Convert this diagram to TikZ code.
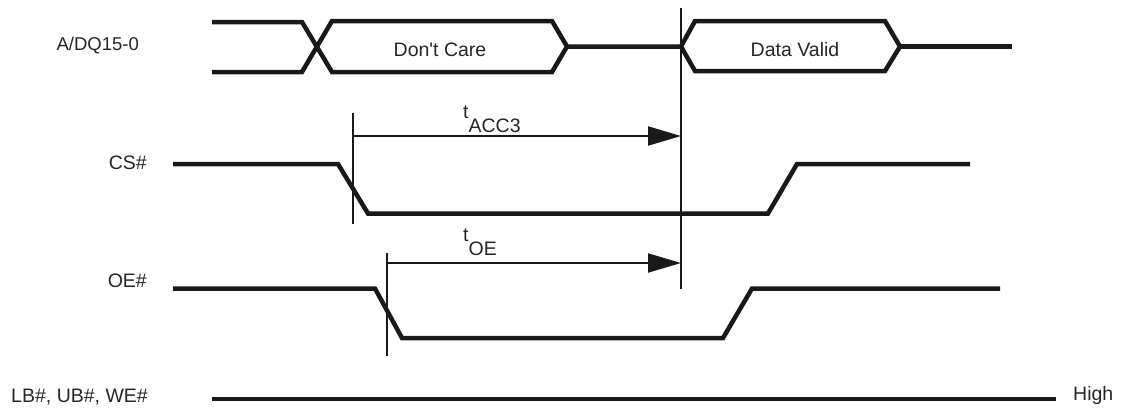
\documentclass[tikz,border=0pt]{standalone}
\usepackage{fontspec}
\setmainfont{Liberation Sans}
\usetikzlibrary{arrows.meta}
\newcommand\straightquote{\XeTeXglyph\XeTeXcharglyph"27\relax}
\begin{document}
\begin{tikzpicture}[x=1pt,y=-1pt,
  sig/.style={line width=4.5pt,line join=miter,black!90},
  thin/.style={line width=1.4pt,black!90},
  dim/.style={line width=2pt,black!90,-{Triangle[length=33pt,width=19pt]}},
  lbl/.style={inner sep=0pt,font=\fontsize{19.5}{22}\selectfont,text=black!85},
]
\useasboundingbox (0,0) rectangle (1122,408);
% labels
\node[lbl,anchor=base east,font=\fontsize{18.5}{21}\selectfont] (ldq) at (139,50) {A/DQ15-0};
\node[lbl,anchor=base east] (lcs) at (147,169) {CS\#};
\node[lbl,anchor=base east] (loe) at (147,287) {OE\#};
\node[lbl,anchor=base east] (llb) at (148,402) {LB\#, UB\#, WE\#};
\node[lbl,anchor=base west] (lhigh) at (1073,400) {High};
\node[lbl,anchor=base] (dc) at (440,56) {Don\straightquote t Care};
\node[lbl,anchor=base] (dv) at (795,56) {Data Valid};
\node[lbl,anchor=base west] (tacc) at (463,118) {t\raisebox{-14.5pt}{ACC3}};
\node[lbl,anchor=base west] (toe) at (463,241) {t\raisebox{-14.5pt}{OE}};
% A/DQ bus
\draw[sig] (212,22) -- (302,22) -- (332,72) -- (552,72) -- (567,46.5) -- (552,21) -- (332,21) -- (302,72) -- (212,72);
\draw[sig] (567,46.5) -- (681,46.5) -- (695,71) -- (885,71) -- (900,46.5) -- (885,21) -- (695,21) -- (681,46.5);
\draw[sig] (900,46.5) -- (1012,46.5);
% CS#
\draw[sig] (173,164) -- (338,164) -- (368,213.5) -- (768,213.5) -- (797,164) -- (970,164);
% OE#
\draw[sig] (173,288.5) -- (375,288.5) -- (402,338) -- (723,338) -- (752,288.5) -- (1000,288.5);
% LB#, UB#, WE#
\draw[sig] (212,399) -- (1056,399);
% reference lines
\coordinate (vtop) at (681,8);
\coordinate (vbot) at (681,289);
\draw[thin] (vtop) -- (vbot);
\coordinate (acct) at (353,113);
\coordinate (accb) at (353,224);
\draw[thin] (acct) -- (accb);
\coordinate (oet) at (387,253);
\coordinate (oeb) at (387,356);
\draw[thin] (oet) -- (oeb);
\coordinate (acc1) at (353,136);
\coordinate (acc2) at (681,136);
\draw[dim] (acc1) -- (acc2);
\coordinate (oe1) at (387,263);
\coordinate (oe2) at (681,263);
\draw[dim] (oe1) -- (oe2);
\end{tikzpicture}
\end{document}
